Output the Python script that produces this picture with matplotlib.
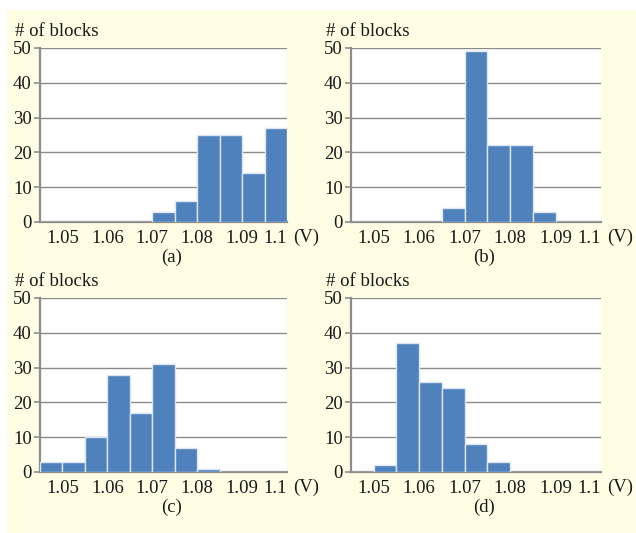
import matplotlib
matplotlib.use('Agg')
import matplotlib.pyplot as plt
from matplotlib.patches import Rectangle

# bin left edges (V) and block counts per panel
bin_left = [1.045, 1.050, 1.055, 1.060, 1.065, 1.070, 1.075, 1.080, 1.085, 1.090, 1.095]
counts_a = [0, 0, 0, 0, 0, 3, 6, 25, 25, 14, 27]
counts_b = [0, 0, 0, 0, 4, 49, 22, 22, 3, 0, 0]
counts_c = [3, 3, 10, 28, 17, 31, 7, 1, 0, 0, 0]
counts_d = [0, 2, 37, 26, 24, 8, 3, 0, 0, 0, 0]
captions = ['(a)', '(b)', '(c)', '(d)']
xticks = [1.05, 1.06, 1.07, 1.08, 1.09, 1.10]
xticklabels = ['1.05', '1.06', '1.07', '1.08', '1.09', '1.1']
yticks = [0, 10, 20, 30, 40, 50]

W, H = 636, 533
FS = 13.5
plt.rcParams['font.family'] = ['Liberation Serif', 'DejaVu Serif']
fig = plt.figure(figsize=(W / 100, H / 100), dpi=100)
fig.patch.set_facecolor('white')
fig.patches.append(Rectangle((7 / W, 0), 1, 1 - 10 / H, transform=fig.transFigure,
                             facecolor='#FEFEE4', edgecolor='none', zorder=-10))

bar_color = '#4F81BD'
grid_color = '#8C8C8C'

# pixel boxes: left, right, top, bottom
boxes = [(40, 287, 48, 222), (351, 601, 48, 222),
         (40, 287, 298, 472), (351, 601, 298, 472)]
data = [counts_a, counts_b, counts_c, counts_d]

for (l, r, t, b), counts, cap in zip(boxes, data, captions):
    ax = fig.add_axes([l / W, 1 - b / H, (r - l) / W, (b - t) / H])
    ax.set_facecolor('white')
    ax.bar(bin_left, counts, width=0.005, align='edge', color=bar_color,
           edgecolor='#DCE6F2', linewidth=1.0, zorder=3)
    ax.set_xlim(1.045, 1.100)
    ax.set_ylim(0, 50)
    ax.set_yticks(yticks)
    ax.set_yticklabels([str(v) for v in yticks], fontsize=FS)
    ax.set_xticks(xticks)
    ax.set_xticklabels(xticklabels, fontsize=FS)
    ax.get_xticklabels()[-1].set_horizontalalignment('right')
    for v in yticks[1:]:
        ax.axhline(v, color=grid_color, linewidth=1.0, zorder=1)
    for s in ['top', 'right']:
        ax.spines[s].set_visible(False)
    ax.spines['left'].set_color(grid_color)
    ax.spines['left'].set_linewidth(1.6)
    ax.spines['bottom'].set_color(grid_color)
    ax.spines['bottom'].set_linewidth(1.6)
    ax.tick_params(axis='y', length=4, width=1.2, color=grid_color, pad=2, labelcolor='#1a1a1a')
    ax.tick_params(axis='x', length=0, pad=6, labelcolor='#1a1a1a')
    fig.text((l - 25) / W, 1 - (t - 16) / H, '# of blocks', fontsize=FS,
             ha='left', va='center', color='#1a1a1a')
    fig.text((r + 6) / W, 1 - (b + 15) / H, '(V)', fontsize=FS,
             ha='left', va='center', color='#1a1a1a')
    fig.text((l + r) / 2 / W + 8 / W, 1 - (b + 35) / H, cap, fontsize=FS,
             ha='center', va='center', color='#1a1a1a')

fig.savefig('out.png', dpi=100, facecolor=fig.get_facecolor())
